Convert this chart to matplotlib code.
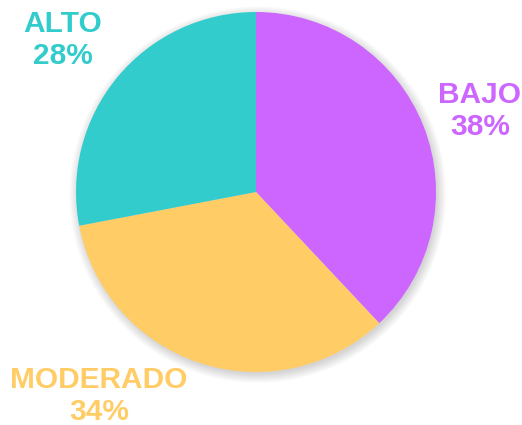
import matplotlib
matplotlib.use("Agg")
import matplotlib.pyplot as plt
from matplotlib.patches import Circle

categories = ["BAJO", "MODERADO", "ALTO"]
values = [38, 34, 28]
colors = ["#CC66FF", "#FFCC66", "#33CCCC"]

W, H = 522, 425
fig = plt.figure(figsize=(W / 100, H / 100), dpi=100)
cx, cy, r = 256, 192, 180
ax = fig.add_axes([(cx - r) / W, (H - cy - r) / H, 2 * r / W, 2 * r / H])
ax.set_xlim(-1.0, 1.0)
ax.set_ylim(-1.0, 1.0)
ax.set_aspect("equal")
ax.axis("off")

# soft shadow
for i in range(14):
    rr = 0.995 + 0.004 * i
    ax.add_patch(Circle((0.01, -0.015), rr, color="#000000", alpha=0.012,
                        lw=0, zorder=0, clip_on=False))

ax.pie(values, colors=colors, startangle=90, counterclock=False, radius=1.0,
       wedgeprops=dict(linewidth=0, zorder=2))
ax.set_xlim(-1.0, 1.0)
ax.set_ylim(-1.0, 1.0)

label_pos = {"BAJO": (480, 111), "MODERADO": (99, 396), "ALTO": (63, 40)}
for cat, val, col in zip(categories, values, colors):
    x, y = label_pos[cat]
    fig.text(x / W, 1 - y / H, f"{cat}\n{val}%", color=col, ha="center",
             va="center", fontsize=21.5, fontweight="bold",
             family="Liberation Sans", linespacing=1.2)

fig.savefig("out.png", dpi=100, facecolor="white")
